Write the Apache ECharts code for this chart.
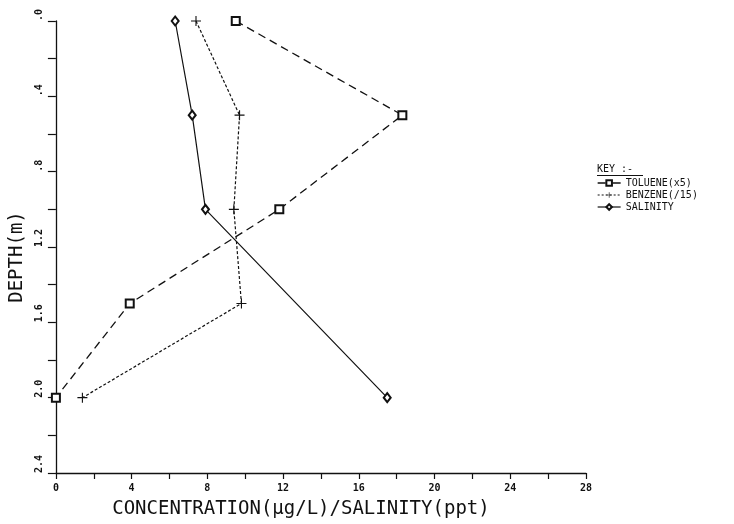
<!DOCTYPE html>
<html>
<head>
<meta charset="utf-8">
<script src="https://cdn.jsdelivr.net/npm/echarts@6/dist/echarts.min.js"></script>
<style>html,body{margin:0;padding:0;background:#fff;}#c{width:734px;height:524px;}</style>
</head>
<body>
<div id="c"></div>
<script>
// Data
var tolueneDepth = [0, 0.5, 1.0, 1.5, 2.0];
var tolueneConc  = [9.5, 18.3, 11.8, 3.9, 0];
var benzeneDepth = [0, 0.5, 1.0, 1.5, 2.0];
var benzeneConc  = [7.4, 9.7, 9.4, 9.8, 1.4];
var salinityDepth = [0, 0.5, 1.0, 2.0];
var salinityVal   = [6.3, 7.2, 7.9, 17.5];
var xTickLabels = ['0', '4', '8', '12', '16', '20', '24', '28'];
var yTickLabels = ['.0', '.4', '.8', '1.2', '1.6', '2.0', '2.4'];
var seriesNames = ['TOLUENE(x5)', 'BENZENE(/15)', 'SALINITY'];

function pairs(xs, ys) { return xs.map(function (x, i) { return [x, ys[i]]; }); }

var FONT = 'DejaVu Sans Mono';
var INK = '#111';
var dashT = [8, 5], dashB = [3, 2];
var chart = echarts.init(document.getElementById('c'), null, { renderer: 'canvas' });

chart.setOption({
  backgroundColor: '#fff',
  animation: false,
  textStyle: { fontFamily: FONT, color: INK },
  grid: { left: 53, right: 148, top: 21, bottom: 50, containLabel: false },
  xAxis: {
    type: 'value', min: 0, max: 28, interval: 2,
    name: 'CONCENTRATION(µg/L)/SALINITY(ppt)',
    nameLocation: 'middle', nameGap: 27,
    nameTextStyle: { fontFamily: FONT, fontSize: 19, color: INK, padding: [0, 40, 0, 0] },
    axisLine: { show: true, onZero: false, lineStyle: { color: INK, width: 1.3 } },
    axisTick: { show: true, inside: false, length: 6, lineStyle: { color: INK, width: 1.2 } },
    axisLabel: {
      fontFamily: FONT, fontSize: 10, color: INK, margin: 10, fontWeight: 'bold',
      formatter: function (v) { var i = Math.round(v); return i % 4 === 0 ? xTickLabels[i / 4] : ''; }
    },
    splitLine: { show: false }
  },
  yAxis: {
    type: 'value', min: 0, max: 2.4, interval: 0.2, inverse: true,
    name: 'DEPTH(m)', nameLocation: 'middle', nameGap: 17, nameRotate: 90,
    nameTextStyle: { fontFamily: FONT, fontSize: 19, color: INK, padding: [0, 20, 0, 0] },
    axisLine: { show: true, onZero: false, lineStyle: { color: INK, width: 1.3 } },
    axisTick: { show: true, inside: false, length: 8, lineStyle: { color: INK, width: 1.2 } },
    axisLabel: {
      fontFamily: FONT, fontSize: 10, color: INK, margin: 16, rotate: 90, fontWeight: 'bold',
      align: 'left', verticalAlign: 'middle',
      formatter: function (v) { var k = Math.round(v * 10); return k % 4 === 0 ? yTickLabels[k / 4] : ''; }
    },
    splitLine: { show: false }
  },
  legend: {
    orient: 'vertical', left: 597, top: 178, padding: 0,
    itemWidth: 23, itemHeight: 7, itemGap: 2,
    textStyle: { fontFamily: FONT, fontSize: 10, color: INK },
    data: [
      { name: seriesNames[0], lineStyle: { type: [8, 7], width: 1.3 } },
      { name: seriesNames[1], lineStyle: { type: [2, 2], width: 1.2 } },
      { name: seriesNames[2], lineStyle: { type: 'solid', width: 1.2 } }
    ]
  },
  graphic: [
    { type: 'text', left: 597, top: 164, style: { text: 'KEY :-', font: '10px "DejaVu Sans Mono"', fill: INK } },
    { type: 'line', shape: { x1: 597, y1: 175.5, x2: 643, y2: 175.5 }, style: { stroke: INK, lineWidth: 1 } }
  ],
  series: [
    {
      name: seriesNames[0], type: 'line', data: pairs(tolueneConc, tolueneDepth),
      symbol: 'emptyRect', symbolSize: 8, showAllSymbol: true,
      lineStyle: { color: INK, width: 1.3, type: dashT },
      itemStyle: { color: INK, borderColor: INK, borderWidth: 1 }
    },
    {
      name: seriesNames[1], type: 'line', data: pairs(benzeneConc, benzeneDepth),
      symbol: 'path://M4,0h1v4h4v1h-4v4h-1v-4h-4v-1h4z', symbolSize: 10, showAllSymbol: true,
      lineStyle: { color: INK, width: 1.2, type: dashB },
      itemStyle: { color: INK, borderWidth: 0 }
    },
    {
      name: seriesNames[2], type: 'line', data: pairs(salinityVal, salinityDepth),
      symbol: 'emptyDiamond', symbolSize: [7, 9], showAllSymbol: true,
      lineStyle: { color: INK, width: 1.2, type: 'solid' },
      itemStyle: { color: INK, borderColor: INK, borderWidth: 1.1 }
    }
  ]
});
</script>
</body>
</html>
